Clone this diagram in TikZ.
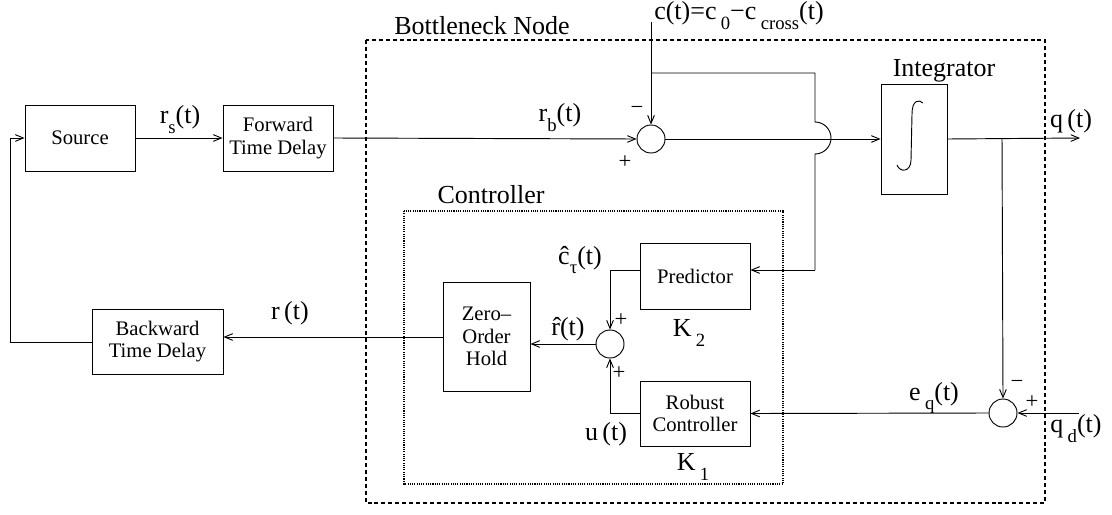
\documentclass[tikz,border=0pt]{standalone}
\usepackage{fontspec}
\setmainfont{Liberation Serif}
\usetikzlibrary{arrows.meta,calc}
\newcommand\sbx[1]{\raisebox{-0.38em}{\fontsize{14}{14}\selectfont #1}}
\tikzset{
  x=0.75pt, y=-0.75pt,
  line/.style={line width=0.7pt},
  arr/.style={line width=0.7pt, -{Straight Barb[length=6pt,width=5pt]}},
  blk/.style={draw, line width=0.7pt, align=center, font=\fontsize{15.5}{17}\selectfont, inner sep=1pt},
  sumn/.style={draw, circle, line width=0.7pt, minimum size=21pt, inner sep=0pt},
  lab/.style={font=\fontsize{19.5}{21}\selectfont, inner sep=0pt},
  sgn/.style={font=\fontsize{17}{17}\selectfont, inner sep=0pt}
}
\begin{document}
\begin{tikzpicture}
\useasboundingbox (0,0) rectangle (1112,514);
% group boxes
\draw[line width=1.3pt, dash pattern=on 3pt off 2.2pt] (366,40) rectangle (1045,503);
\draw[line width=0.8pt, dash pattern=on 0.8pt off 0.9pt] (404,211) rectangle (783,484);
\node[lab] (bnl) at (482,26) {Bottleneck Node};
\node[lab] (ctl) at (491,195) {Controller};
% blocks
\node[blk, minimum width=82.5pt, minimum height=49.5pt] (src) at (80,138) {Source};
\node[blk, minimum width=82.5pt, minimum height=49.5pt] (fwd) at (278,138) {Forward\\ Time Delay};
\node[blk, minimum width=98.25pt, minimum height=48.75pt] (bwd) at (157.5,341.5) {Backward\\ Time Delay};
\node[blk, minimum width=65.25pt, minimum height=81.75pt] (zoh) at (486.5,336.5) {Zero–\\Order\\Hold};
\node[blk, minimum width=82.5pt, minimum height=49.5pt] (pred) at (695,276) {Predictor};
\node[blk, minimum width=82.5pt, minimum height=48.75pt] (rob) at (695,413.5) {Robust\\ Controller};
\node[blk, minimum width=49.5pt, minimum height=82.5pt] (intg) at (914,139) {};
\node[lab] (intl) at (944,71) {Integrator};
\draw[line width=0.7pt] (923,103) .. controls (919,99) and (912,100) .. (912,114) -- (911,160) .. controls (911,172) and (900,173) .. (897,165);
% summing junctions
\node[sumn] (s1) at (651,139) {};
\node[sumn] (s2) at (610,344) {};
\node[sumn] (s3) at (1003,413) {};
% coordinates
\coordinate (cin) at (651,22);
\coordinate (cbr) at (651,73);
\coordinate (jtop) at (815,73);
\coordinate (ja) at (815,122);
\coordinate (jc) at (815,270);
\coordinate (qout) at (1080,138);
\coordinate (qbr) at (1002,138);
\coordinate (qdin) at (1079,413);
\coordinate (fbl) at (10,342);
\coordinate (fbt) at (10,138);
% connectors
\draw[arr] (fbt) -- (src.west);
\draw[arr] (src.east) -- (fwd.west);
\draw[arr] (fwd.east) -- (s1.west);
\draw[arr] (cin) -- (s1.north);
\draw[line] (cbr) -- (jtop) -- (ja) arc[start angle=-90, end angle=90, radius=16] -- (jc);
\draw[arr] (jc) -- (pred.east |- jc);
\draw[arr] (s1.east) -- (intg.west);
\draw[arr] (intg.east) -- (qout);
\draw[arr] (qbr) -- (s3.north);
\draw[arr] (qdin) -- (s3.east);
\draw[arr] (s3.west) -- (rob.east);
\draw[arr] (pred.west |- jc) -| (s2.north);
\draw[arr] (rob.west) -| (s2.south);
\draw[arr] (s2.west) -- (zoh.east |- s2);
\draw[arr] (zoh.west |- 0,337) -- (bwd.east |- 0,337);
\draw[line] (bwd.west |- fbl) -- (fbl) -- (fbt);
% labels
\node[lab] (lrs) at (180,120) {r\sbx{s}(t)};
\node[lab] (lrb) at (560,118) {r\sbx{b}(t)};
\node[sgn] (m1) at (637,110) {−};
\node[sgn] (p1) at (625,162) {+};
\node[lab, anchor=west] (lc) at (654,16) {c(t)=c\,\sbx{0}−c\,\sbx{cross}(t)};
\node[lab] (lq) at (1071,121) {q\,(t)};
\node[lab] (lch) at (580,260) {ĉ\sbx{τ}(t)};
\node[lab] (lrh) at (568,329) {\^{r}(t)};
\node[sgn] (p2) at (621,320) {+};
\node[sgn] (p3) at (619,373) {+};
\node[lab] (lu) at (606,434) {u\,(t)};
\node[lab] (lk2) at (689,333) {K\,\sbx{2}};
\node[lab] (lk1) at (693,467) {K\,\sbx{1}};
\node[lab] (lr) at (290,313) {r\,(t)};
\node[lab] (leq) at (934,398) {e\,\sbx{q}(t)};
\node[sgn] (m3) at (1017,384) {−};
\node[sgn] (p4) at (1032,402) {+};
\node[lab] (lqd) at (1076,429) {q\,\sbx{d}(t)};
\end{tikzpicture}
\end{document}
